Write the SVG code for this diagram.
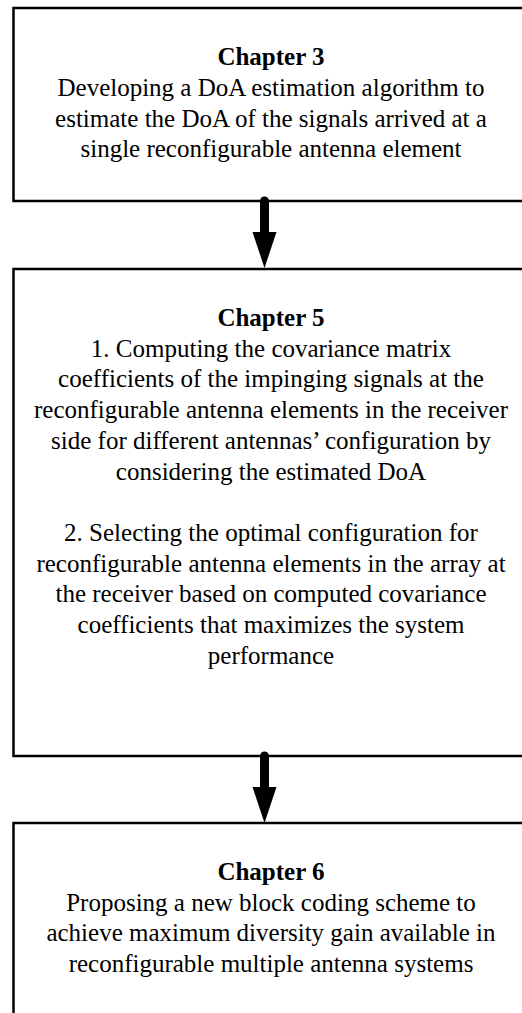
<svg xmlns="http://www.w3.org/2000/svg" width="522" height="1013" viewBox="0 0 522 1013">
<style>
.box{fill:#fff;stroke:#000;stroke-width:2.5}
.t{font-family:"Liberation Serif","Times New Roman",serif;font-size:25px;fill:#000;text-anchor:middle}
.b{font-weight:bold}
.shaft{stroke:#000;stroke-width:9;stroke-linecap:round;fill:none}
.head{fill:#000}
</style>
<rect width="522" height="1013" fill="#fff"/>
<g id="node-ch3">
<rect class="box" x="13.5" y="8" width="520" height="193"/>
<text class="t b" x="271" y="65">Chapter 3</text>
<text class="t" x="271" y="96">Developing a DoA estimation algorithm to</text>
<text class="t" x="271" y="127">estimate the DoA of the signals arrived at a</text>
<text class="t" x="271" y="157">single reconfigurable antenna element</text>
</g>
<g id="node-ch5">
<rect class="box" x="13.5" y="269" width="520" height="487"/>
<text class="t b" x="271" y="326">Chapter 5</text>
<text class="t" x="271" y="357">1. Computing the covariance matrix</text>
<text class="t" x="271" y="387">coefficients of the impinging signals at the</text>
<text class="t" x="271" y="418">reconfigurable antenna elements in the receiver</text>
<text class="t" x="271" y="449">side for different antennas’ configuration by</text>
<text class="t" x="271" y="480">considering the estimated DoA</text>
<text class="t" x="271" y="541">2. Selecting the optimal configuration for</text>
<text class="t" x="271" y="572">reconfigurable antenna elements in the array at</text>
<text class="t" x="271" y="602">the receiver based on computed covariance</text>
<text class="t" x="271" y="633">coefficients that maximizes the system</text>
<text class="t" x="271" y="664">performance</text>
</g>
<g id="node-ch6">
<rect class="box" x="13.5" y="823" width="520" height="210"/>
<text class="t b" x="271" y="880">Chapter 6</text>
<text class="t" x="271" y="911">Proposing a new block coding scheme to</text>
<text class="t" x="271" y="941">achieve maximum diversity gain available in</text>
<text class="t" x="271" y="972">reconfigurable multiple antenna systems</text>
</g>
<g id="connectors">
<line class="shaft" x1="264.5" y1="201" x2="264.5" y2="236"/>
<polygon class="head" points="252.5,232 276.5,232 264.5,268"/>
<line class="shaft" x1="264.5" y1="756" x2="264.5" y2="790"/>
<polygon class="head" points="252.5,787 276.5,787 264.5,823"/>
</g>
</svg>
